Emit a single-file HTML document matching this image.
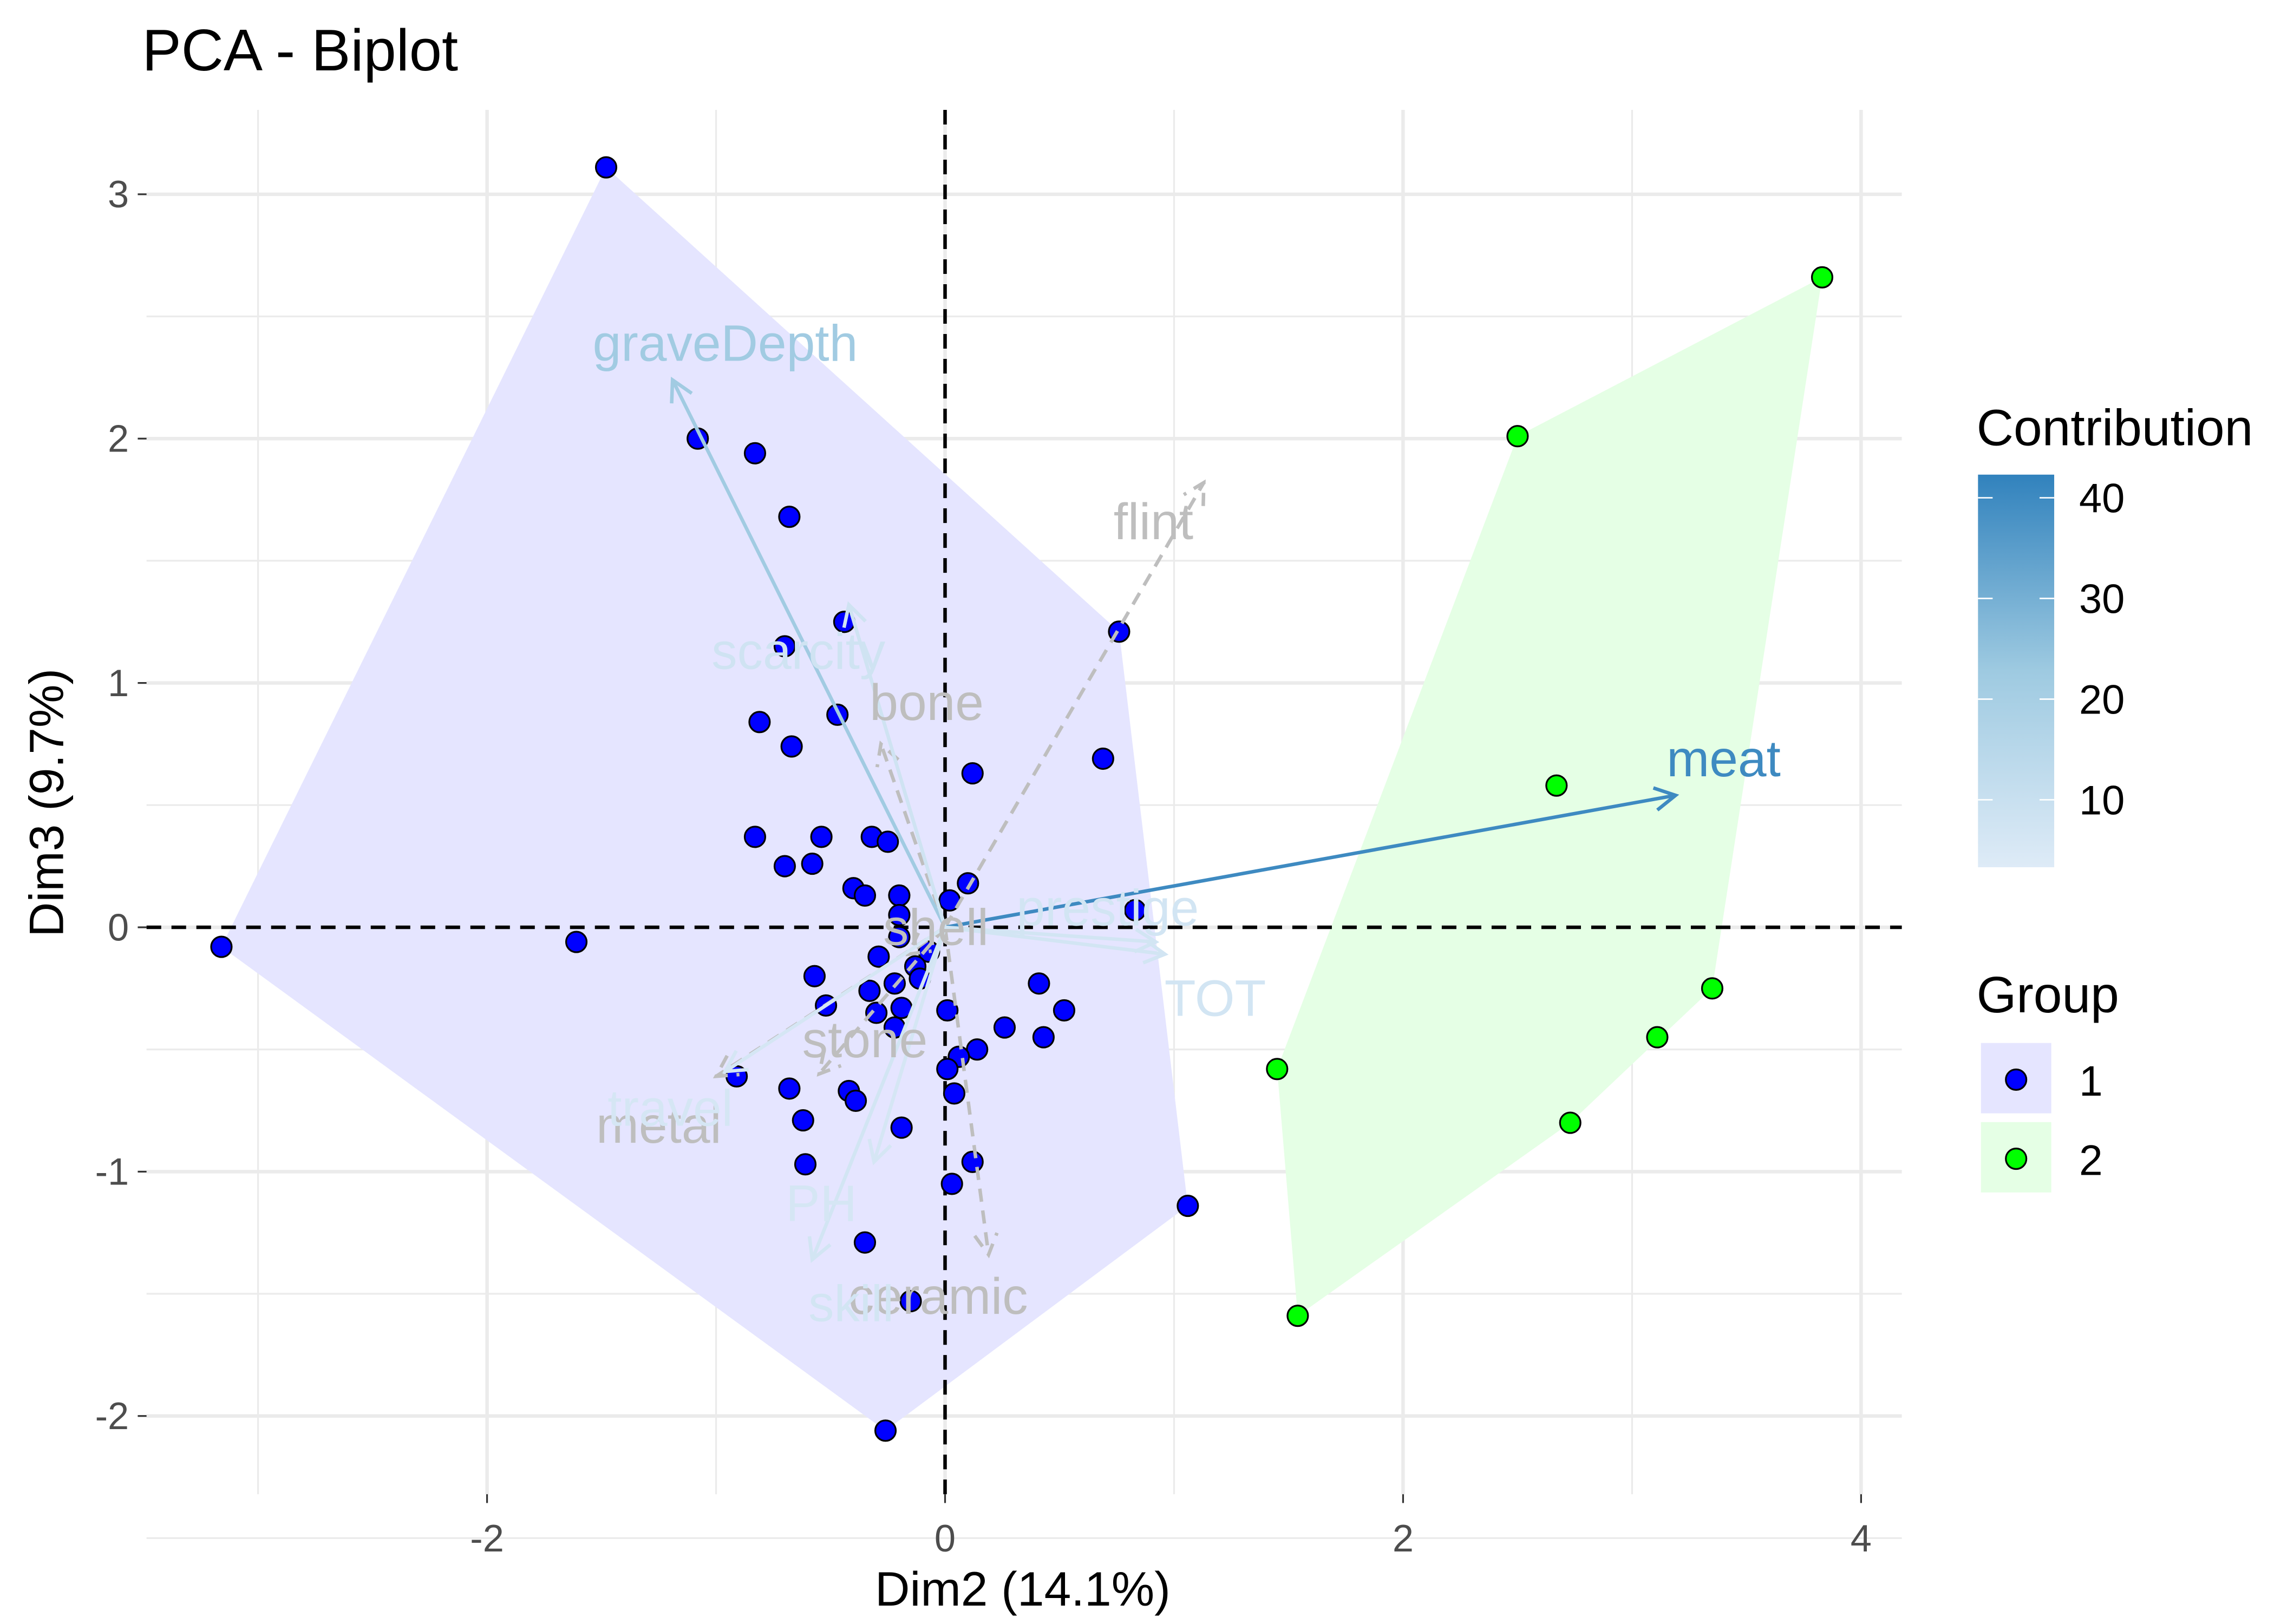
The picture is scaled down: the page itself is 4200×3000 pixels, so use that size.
<!DOCTYPE html>
<html><head><meta charset="utf-8"><style>html,body{margin:0;padding:0;background:#fff}svg{display:block}</style></head>
<body>
<svg id="chart" xmlns="http://www.w3.org/2000/svg" width="4200" height="3000" viewBox="0 0 1552 1108.6" font-family="Liberation Sans, sans-serif">
<defs><linearGradient id="cg" x1="0" y1="1" x2="0" y2="0"><stop offset="0" stop-color="#deebf7"/><stop offset="0.5" stop-color="#9ecae1"/><stop offset="1" stop-color="#3182bd"/></linearGradient></defs>
<rect width="1552" height="1109" fill="#fff"/>
<g id="grid"></g><g id="hulls"></g><g id="zero"></g><g id="pts"></g><g id="arrows"></g><g id="labels"></g>
<text x="97" y="48" font-size="40">PCA - Biplot</text>
<text x="698" y="1096" font-size="33" text-anchor="middle">Dim2 (14.1%)</text>
<text transform="translate(43,548) rotate(-90)" font-size="33" text-anchor="middle">Dim3 (9.7%)</text>
<g>
<text x="1349" y="304" font-size="35">Contribution</text>
<rect x="1350" y="324" width="52" height="268" fill="url(#cg)"/>
<g id="cbt"></g>
</g>
<g>
<text x="1349" y="691" font-size="35">Group</text>
<rect x="1352" y="712" width="48" height="48" fill="#e5e5ff"/>
<circle cx="1376" cy="737" r="7" fill="#0000ff" stroke="#000" stroke-width="1.2"/>
<text x="1419" y="748" font-size="29">1</text>
<rect x="1352" y="766" width="48" height="48" fill="#e5ffe5"/>
<circle cx="1376" cy="791" r="7" fill="#00ff00" stroke="#000" stroke-width="1.2"/>
<text x="1419" y="802" font-size="29">2</text>
</g>
</svg>
<script>
const xTicks=[-2,0,2,4];
const yTicks=[-2,-1,0,1,2,3];
const cbTicks=[10,20,30,40];
const g1x=[-1.48,-1.08,-0.83,-0.68,-0.44,-0.70,0.76,-0.81,-0.47,-0.67,0.69,0.12,-0.83,-0.54,-0.32,-0.25,-0.58,-0.70,-0.40,-0.35,-0.20,0.10,0.02,-0.20,0.83,-3.16,-1.61,-0.20,-0.29,-0.07,-0.13,-0.57,-0.11,-0.22,-0.33,-0.52,-0.19,0.41,0.52,0.01,-0.30,-0.22,0.26,0.43,0.14,0.06,0.01,-0.91,-0.68,-0.42,-0.39,0.04,-0.62,-0.19,-0.61,0.12,0.03,1.06,-0.35,-0.15,-0.26];
const g1y=[3.11,2.00,1.94,1.68,1.25,1.15,1.21,0.84,0.87,0.74,0.69,0.63,0.37,0.37,0.37,0.35,0.26,0.25,0.16,0.13,0.13,0.18,0.11,0.05,0.07,-0.08,-0.06,-0.04,-0.12,-0.10,-0.16,-0.20,-0.21,-0.23,-0.26,-0.32,-0.33,-0.23,-0.34,-0.34,-0.35,-0.41,-0.41,-0.45,-0.50,-0.53,-0.58,-0.61,-0.66,-0.67,-0.71,-0.68,-0.79,-0.82,-0.97,-0.96,-1.05,-1.14,-1.29,-1.53,-2.06];
const g2x=[3.83,2.50,2.67,3.35,3.11,2.73,1.45,1.54];
const g2y=[2.66,2.01,0.58,-0.25,-0.45,-0.80,-0.58,-1.59];
const varNames=["graveDepth","meat","scarcity","prestige","TOT","PH","skill","travel"];
const varX=[-1.19,3.19,-0.42,0.92,0.96,-0.31,-0.58,-0.96];
const varY=[2.24,0.54,1.32,-0.06,-0.11,-0.96,-1.36,-0.59];
const varContrib=[22,40,8,7,7,6,7,6];
const varLabX=[-0.96,3.40,-0.64,0.71,1.18,-0.54,-0.41,-1.20];
const varLabY=[2.39,0.69,1.13,0.08,-0.29,-1.13,-1.54,-0.74];
const supNames=["flint","bone","stone","metal","ceramic","shell"];
const supX=[1.13,-0.28,-0.55,-1.00,0.19,-0.16];
const supY=[1.82,0.75,-0.60,-0.61,-1.34,-0.11];
const supLabX=[0.91,-0.08,-0.35,-1.25,-0.03,-0.04];
const supLabY=[1.66,0.92,-0.46,-0.81,-1.51,0.00];

const NS="http://www.w3.org/2000/svg";
const L=100,R=1298,T=75,B=1020;
const sx=v=>645+v*156.3, sy=v=>633-v*166.8;
const cbY=v=>592-(v-3.3)*(268/(42.3-3.3));
function mk(par,tag,at){const e=document.createElementNS(NS,tag);for(const k in at)e.setAttribute(k,at[k]);document.getElementById(par).appendChild(e);return e;}
function lerpC(t){const a=[222,235,247],m=[158,202,225],b=[49,130,189];let c;if(t<0.5){const u=t/0.5;c=a.map((v,i)=>Math.round(v+(m[i]-v)*u));}else{const u=(t-0.5)/0.5;c=m.map((v,i)=>Math.round(v+(b[i]-v)*u));}return `rgb(${c})`;}
for(let v=-3;v<=4;v+=1){const major=xTicks.includes(v);const e=mk('grid','line',{x1:sx(v),x2:sx(v),y1:T,y2:B,stroke:'#ebebeb','stroke-width':major?2.4:1.2});

}
for(let v=-2.5;v<=3;v+=0.5){const major=Number.isInteger(v);const e=mk('grid','line',{x1:L,x2:R,y1:sy(v),y2:sy(v),stroke:'#ebebeb','stroke-width':major?2.4:1.2});

}
xTicks.forEach(v=>{mk('grid','line',{x1:sx(v),x2:sx(v),y1:B,y2:B+6,stroke:'#333','stroke-width':1.2});const t=mk('grid','text',{x:sx(v),y:B+39,'font-size':26,'text-anchor':'middle',fill:'#4d4d4d'});t.textContent=v;

});
yTicks.forEach(v=>{mk('grid','line',{x1:L-6,x2:L,y1:sy(v),y2:sy(v),stroke:'#333','stroke-width':1.2});const t=mk('grid','text',{x:L-12,y:sy(v)+9,'font-size':26,'text-anchor':'end',fill:'#4d4d4d'});t.textContent=v;

});
function hull(xs,ys){const p=xs.map((x,i)=>[x,ys[i]]).sort((a,b)=>a[0]-b[0]||a[1]-b[1]);const cr=(o,a,b)=>(a[0]-o[0])*(b[1]-o[1])-(a[1]-o[1])*(b[0]-o[0]);const lo=[],up=[];for(const q of p){while(lo.length>=2&&cr(lo[lo.length-2],lo[lo.length-1],q)<=0)lo.pop();lo.push(q);}for(const q of p.slice().reverse()){while(up.length>=2&&cr(up[up.length-2],up[up.length-1],q)<=0)up.pop();up.push(q);}return lo.slice(0,-1).concat(up.slice(0,-1));}
[[g1x,g1y,'#e5e5ff','group-1-hull'],[g2x,g2y,'#e5ffe5','group-2-hull']].forEach(([xs,ys,c,n])=>{const h=hull(xs,ys);const e=mk('hulls','polygon',{points:h.map(q=>sx(q[0])+','+sy(q[1])).join(' '),fill:c});

});
let z=mk('zero','line',{x1:L,x2:R,y1:sy(0),y2:sy(0),stroke:'#000','stroke-width':2.4,'stroke-dasharray':'10,7'});


z=mk('zero','line',{x1:sx(0),x2:sx(0),y1:T,y2:B,stroke:'#000','stroke-width':2.4,'stroke-dasharray':'10,7'});


g1x.forEach((x,i)=>{const e=mk('pts','circle',{cx:sx(x),cy:sy(g1y[i]),r:7,fill:'#0000ff',stroke:'#000','stroke-width':1.2});

});
g2x.forEach((x,i)=>{const e=mk('pts','circle',{cx:sx(x),cy:sy(g2y[i]),r:7,fill:'#00ff00',stroke:'#000','stroke-width':1.2});

});
function arrow(x,y,col,dash,name){const x0=sx(0),y0=sy(0),x1=sx(x),y1=sy(y);const a=Math.atan2(y1-y0,x1-x0),h=16,s=0.5;
const d=`M${x0},${y0}L${x1},${y1}M${x1-h*Math.cos(a-s)},${y1-h*Math.sin(a-s)}L${x1},${y1}L${x1-h*Math.cos(a+s)},${y1-h*Math.sin(a+s)}`;
const e=mk('arrows','path',{d:d,fill:'none',stroke:col,'stroke-width':2.4,'stroke-dasharray':dash?'9,6':'none'});

}
supNames.forEach((n,i)=>{arrow(supX[i],supY[i],'#bebebe',true,n+'-arrow');const t=mk('labels','text',{x:sx(supLabX[i]),y:sy(supLabY[i])+12,'font-size':35,'text-anchor':'middle',fill:'#bebebe'});t.textContent=n;

});
varNames.forEach((n,i)=>{const c=lerpC((varContrib[i]-3.3)/39);arrow(varX[i],varY[i],c,false,n+'-arrow');const t=mk('labels','text',{x:sx(varLabX[i]),y:sy(varLabY[i])+12,'font-size':35,'text-anchor':'middle',fill:c});t.textContent=n;

});
cbTicks.forEach(v=>{const y=cbY(v);mk('cbt','line',{x1:1350,x2:1360,y1:y,y2:y,stroke:'#fff','stroke-width':1});mk('cbt','line',{x1:1392,x2:1402,y1:y,y2:y,stroke:'#fff','stroke-width':1});const t=mk('cbt','text',{x:1419,y:y+10,'font-size':28});t.textContent=v;

});
</script>
</body></html>
